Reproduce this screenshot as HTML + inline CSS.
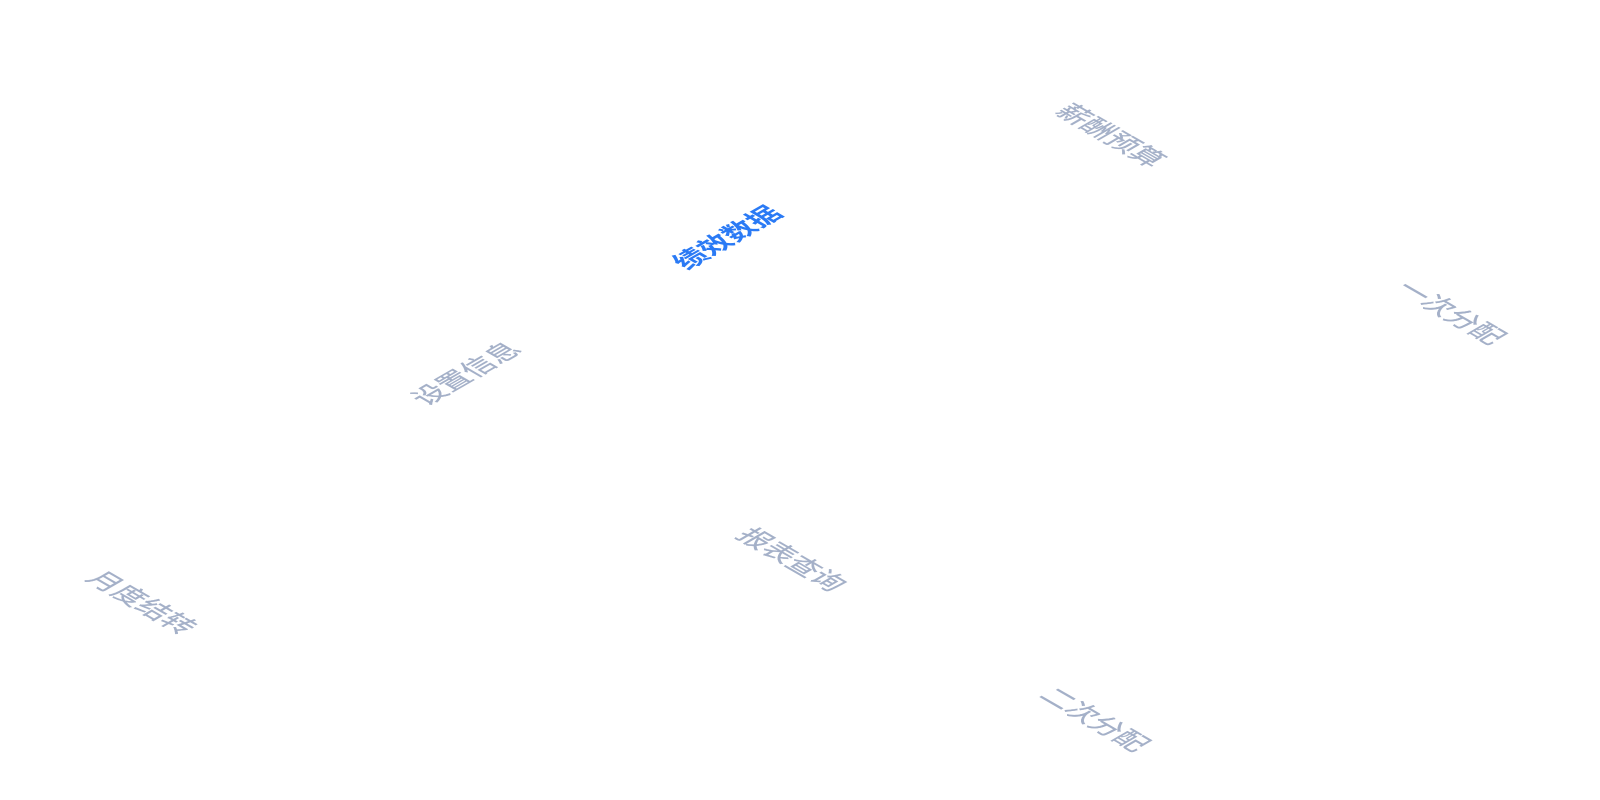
<!DOCTYPE html>
<html><head><meta charset="utf-8"><style>
html,body{margin:0;padding:0;width:1600px;height:800px;background:#fff;overflow:hidden;position:relative}
.t{position:absolute;font-family:"Liberation Sans","Noto Sans CJK SC",sans-serif;font-size:28px;white-space:nowrap;color:#a4b0c8;line-height:1;-webkit-text-stroke:0.3px #a4b0c8}
.d{transform:translate(-50%,-50%) rotate(30deg) skewX(-30deg) scaleY(0.866)}
.u{transform:translate(-50%,-50%) rotate(-30deg) skewX(30deg) scaleY(0.866)}
.b{color:#2a7af5;font-weight:bold;-webkit-text-stroke:0}
</style></head><body>
<div class="t u b" style="left:728px;top:238px">绩效数据</div>
<div class="t d" style="left:1110px;top:136px">薪酬预算</div>
<div class="t d" style="left:1450px;top:313px">一次分配</div>
<div class="t u" style="left:467px;top:374px">设置信息</div>
<div class="t d" style="left:791px;top:560px">报表查询</div>
<div class="t d" style="left:141px;top:603px">月度结转</div>
<div class="t d" style="left:1094px;top:720px">二次分配</div>
</body></html>
